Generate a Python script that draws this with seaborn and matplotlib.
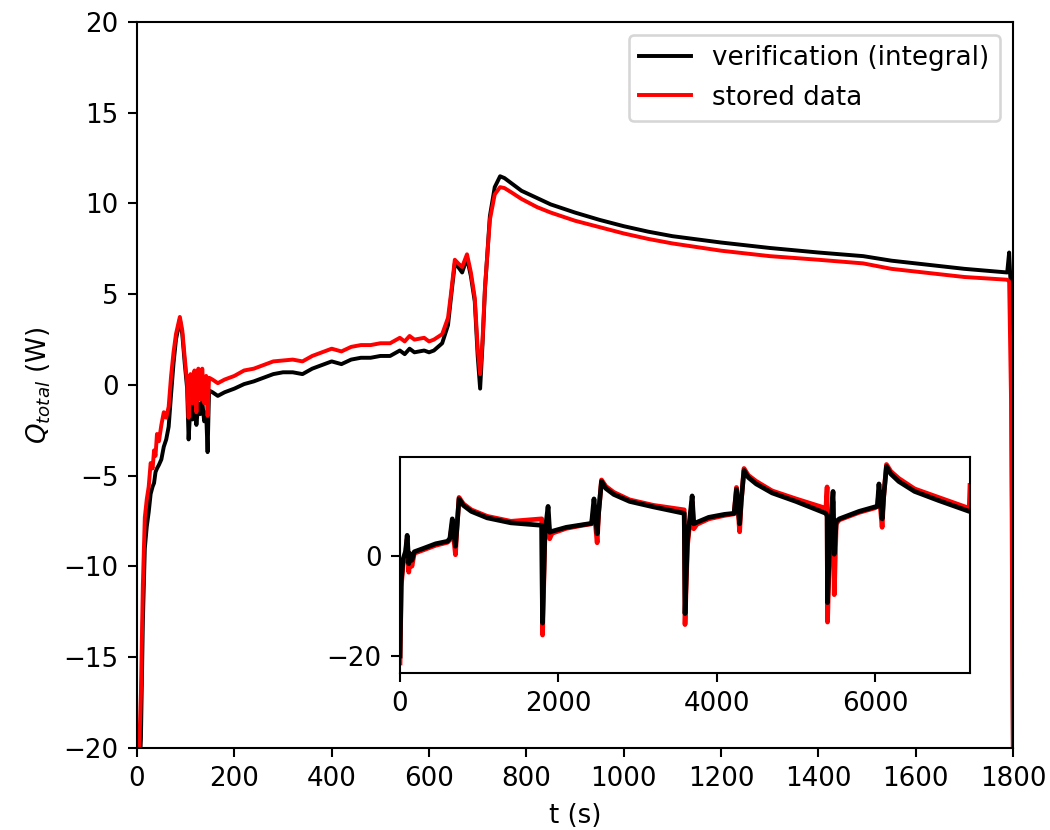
import numpy as np
import pandas as pd
import seaborn as sns
import matplotlib
matplotlib.use("Agg")
import matplotlib.pyplot as plt

# ---------------------------------------------
# main window: first cycle (0 - 1800 s)
# ---------------------------------------------
t_main = [0, 4, 8, 12, 16, 20, 24, 28, 32, 35, 38, 41, 45, 50, 55, 60, 65, 70, 75, 80,
          88, 93, 98, 103, 106, 110, 114, 118, 122, 126, 130, 134, 138, 142, 145, 148,
          155, 166, 180, 200, 220, 240, 260, 280, 300, 320, 340, 360, 380, 400, 420,
          440, 460, 480, 500, 520, 540, 550, 560, 570, 590, 600, 610, 627, 639, 645,
          653, 660, 668, 678, 686, 694, 700, 705, 710, 715, 725, 735, 746, 755, 770,
          790, 822, 850, 900, 950, 1000, 1050, 1100, 1200, 1300, 1400, 1492, 1550,
          1650, 1700, 1788, 1792, 1796, 1800]

q_verif = [-26, -22, -19.5, -13, -9, -7.8, -7, -6.0, -5.6, -5.4, -4.8, -4.6, -4.4, -4.1,
           -3.4, -3.0, -2.3, -0.5, 1.2, 2.5, 3.6, 2.8, 1.2, -0.2, -3.0, -1.0, -1.9, -0.5,
           -2.2, -1.0, -1.6, -0.9, -2.0, -1.5, -3.7, -0.3, -0.4, -0.6, -0.4, -0.2, 0.05,
           0.2, 0.4, 0.6, 0.7, 0.7, 0.6, 0.9, 1.1, 1.3, 1.15, 1.4, 1.5, 1.5, 1.6, 1.6,
           1.9, 1.7, 2.0, 1.8, 1.9, 1.8, 1.9, 2.3, 3.3, 4.8, 6.7, 6.5, 6.2, 7.0, 6.0, 4.6,
           1.6, -0.2, 2.3, 5.3, 9.3, 10.9, 11.5, 11.4, 11.1, 10.7, 10.3, 9.95, 9.5,
           9.1, 8.75, 8.45, 8.2, 7.85, 7.55, 7.3, 7.1, 6.85, 6.55, 6.4, 6.2, 7.3, 5.0,
           -22]

q_stored = [-24, -20.5, -17, -11, -7.3, -6.3, -5.6, -4.3, -4.6, -3.6, -3.9, -2.7, -3.1,
            -2.2, -1.5, -1.8, -1.2, 0.5, 1.8, 2.8, 3.75, 3.0, 1.5, 0.1, -1.8, 0.6, -1.0,
            0.8, -1.5, 0.9, -0.8, 0.9, -1.0, 0.5, -1.7, 0.4, 0.3, 0.1, 0.3, 0.5, 0.8, 0.9,
            1.1, 1.3, 1.35, 1.4, 1.3, 1.6, 1.8, 2.0, 1.85, 2.1, 2.2, 2.2, 2.3, 2.3, 2.6,
            2.4, 2.7, 2.5, 2.6, 2.4, 2.5, 2.8, 3.7, 5.0, 6.9, 6.7, 6.5, 7.2, 6.2, 4.8, 2.0,
            0.6, 2.5, 5.4, 9.1, 10.5, 10.9, 10.85, 10.6, 10.25, 9.8, 9.5, 9.05, 8.7,
            8.35, 8.05, 7.8, 7.4, 7.1, 6.9, 6.7, 6.4, 6.1, 5.95, 5.8, 5.7, -1, -22]

# ---------------------------------------------
# inset: four cycles (0 - 7200 s)
# ---------------------------------------------
t_inset = [0, 15, 40, 70, 90, 110, 130, 150, 180, 300, 450, 600, 630, 660, 700, 720, 745,
           800, 900, 1100, 1400, 1790, 1800, 1830, 1870, 1890, 1920, 2100, 2300, 2420,
           2450, 2490, 2510, 2545, 2600, 2700, 2900, 3200, 3590, 3600, 3630, 3690, 3710,
           3750, 3900, 4100, 4220, 4250, 4290, 4310, 4345, 4400, 4500, 4700, 5000, 5380,
           5395, 5400, 5430, 5470, 5485, 5510, 5550, 5800, 6000, 6030, 6050, 6090, 6110,
           6145, 6200, 6300, 6500, 6800, 7190, 7200]

qi_verif = [-20, -5, -0.5, 1, 4.2, -1.5, 0.5, -0.8, 0.9, 1.6, 2.5, 3.0, 3.6, 7.5, 2.0,
            6.0, 11.5, 10.2, 9.0, 7.7, 6.7, 6.2, -13.4, 4.5, 10.0, 4.8, 5.0, 5.8, 6.3,
            6.6, 11.5, 4.5, 9.0, 15.0, 13.6, 12.4, 11.0, 9.9, 8.6, -11.5, 3.0, 12.1, 6.5,
            6.8, 7.8, 8.4, 8.6, 13.4, 6.5, 11.0, 17.2, 15.8, 14.5, 12.7, 11.0, 8.6, 8.0,
            -9.3, 4.0, 13.0, 0.4, 7.0, 7.5, 9.0, 9.9, 10.0, 14.5, 7.5, 12.0, 18.0, 16.5,
            15.0, 13.0, 11.2, 9.0, 9.0]

qi_stored = [-21.4, -6, -1.5, 0.5, 3.5, -3.2, 0.0, -2.0, 0.6, 1.3, 2.2, 2.8, 3.3, 6.5,
             0.3, 6.0, 11.8, 10.5, 9.3, 8.0, 7.0, 7.5, -15.8, 4.0, 8.0, 3.5, 4.6, 5.6, 6.2,
             6.5, 9.5, 2.7, 9.0, 15.3, 14.0, 12.8, 11.3, 10.2, 9.3, -13.7, 2.0, 11.0, 5.5,
             6.4, 7.5, 8.2, 8.5, 13.8, 4.9, 11.0, 17.6, 16.2, 15.0, 13.1, 11.5, 9.6, 13.9,
             -13.2, 3.0, 11.0, -7.7, 6.5, 7.3, 8.8, 9.7, 10.0, 13.0, 5.8, 12.0, 18.4,
             17.0, 15.6, 13.5, 11.8, 9.6, 14.2]

dpi = 188
fig = plt.figure(figsize=(1050 / dpi, 830 / dpi), dpi=dpi)
ax = fig.add_axes([0.1305, 0.0988, 0.8343, 0.8747])

sns.lineplot(x=t_main, y=q_verif, color="black", label="verification (integral)",
             estimator=None, sort=False, ax=ax)
sns.lineplot(x=t_main, y=q_stored, color="red", label="stored data",
             estimator=None, sort=False, ax=ax)
ax.set_xlim(0, 1800)
ax.set_ylim(-20, 20)
ax.set_xticks(np.arange(0, 1801, 200))
ax.set_yticks(np.arange(-20, 21, 5))
ax.set_xlabel("t (s)")
ax.set_ylabel("$Q_{total}$ (W)")
ax.legend(loc="upper right")

# inset with the full run
axins = fig.add_axes([0.381, 0.1892, 0.5428, 0.2602])
sns.lineplot(x=t_inset, y=qi_stored, color="red", lw=1.8,
             estimator=None, sort=False, ax=axins)
sns.lineplot(x=t_inset, y=qi_verif, color="black", lw=1.8,
             estimator=None, sort=False, ax=axins)
axins.set_xlim(0, 7200)
axins.set_ylim(-23.4, 19.9)
axins.set_xticks([0, 2000, 4000, 6000])
axins.set_yticks([-20, 0])

fig.savefig("out.png", dpi=dpi)
